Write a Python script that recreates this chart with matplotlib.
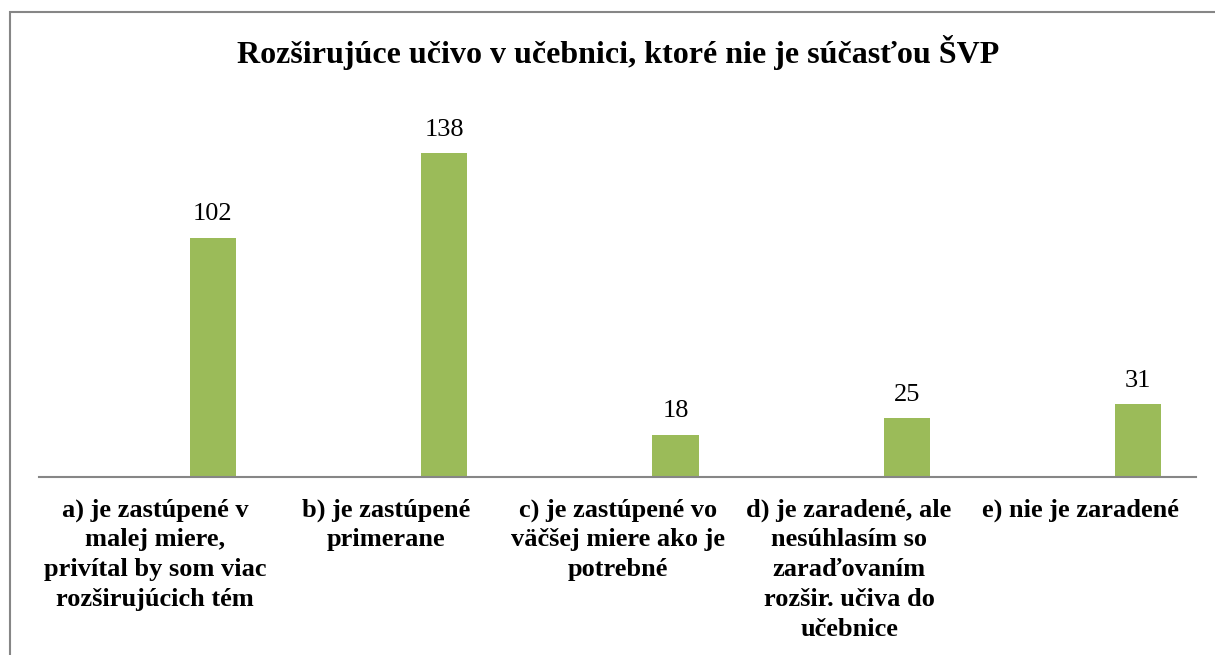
## bar chart: Rozširujúce učivo v učebnici
from matplotlib import pyplot as plt
import matplotlib.patches as mpatches
import numpy as np

## data
categories = [
    "a) je zastúpené v\nmalej miere,\nprivítal by som viac\nrozširujúcich tém",
    "b) je zastúpené\nprimerane",
    "c) je zastúpené vo\nväčšej miere ako je\npotrebné",
    "d) je zaradené, ale\nnesúhlasím so\nzaraďovaním\nrozšir. učiva do\nučebnice",
    "e) nie je zaradené",
]
counts = [102, 138, 18, 25, 31]
title = "Rozširujúce učivo v učebnici, ktoré nie je súčasťou ŠVP"

plt.rcParams['font.family'] = ['Liberation Serif', 'DejaVu Serif']

fig = plt.figure(figsize=(12.15, 6.55), dpi=100)
ax = fig.add_axes([0.0325, 0.2722, 0.9519, 0.5724])

x = np.arange(len(categories))
## the bar sits in the right part of each category slot
bars = ax.bar(x + 0.25, counts, width=0.2, color='#9BBB59')

for rect, val in zip(bars, counts):
    ax.annotate(str(val), (rect.get_x() + rect.get_width() / 2, rect.get_height()),
                xytext=(0, 9), textcoords='offset points',
                ha='center', va='bottom', fontsize=19)

ax.set_xlim(-0.5, len(categories) - 0.5)
ax.set_ylim(0, 160)
ax.set_xticks(x)
ax.set_xticklabels(categories, fontsize=19, fontweight='bold', linespacing=1.38, va='top')
ax.tick_params(axis='x', length=0, pad=15.5)
ax.set_yticks([])

for s in ['top', 'right', 'left']:
    ax.spines[s].set_visible(False)
ax.spines['bottom'].set_color('#868686')
ax.spines['bottom'].set_linewidth(1.5)

fig.text(0.5084, 1 - 52 / 655, title, ha='center', va='center',
         fontsize=23, fontweight='bold')

## grey frame of the chart area (cut off on right and bottom)
frame = mpatches.Rectangle((10 / 1215, -0.1), 1.2, 1.1 - 12 / 655,
                           transform=fig.transFigure, fill=False,
                           edgecolor='#868686', linewidth=1.5, clip_on=False)
fig.patches.append(frame)

fig.savefig("out.png", dpi=100)
